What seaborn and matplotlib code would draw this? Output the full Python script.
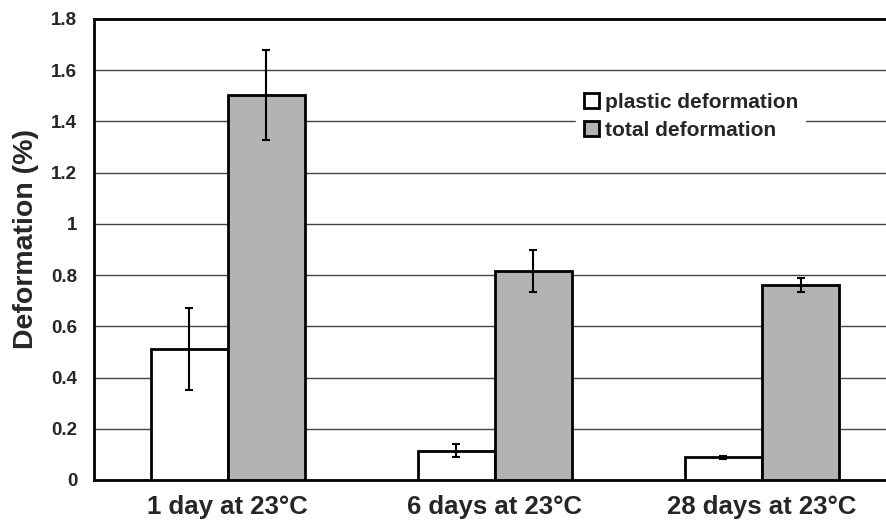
import matplotlib
matplotlib.use("Agg")
import matplotlib.pyplot as plt
import seaborn as sns
import pandas as pd
import numpy as np

categories = ["1 day at 23°C", "6 days at 23°C", "28 days at 23°C"]
series = ["plastic deformation", "total deformation"]
plastic = [0.51, 0.115, 0.088]
plastic_err = [0.16, 0.027, 0.005]
total = [1.503, 0.815, 0.762]
total_err = [0.175, 0.082, 0.028]
yticks = [0, 0.2, 0.4, 0.6, 0.8, 1, 1.2, 1.4, 1.6, 1.8]
ytick_labels = ["0", "0.2", "0.4", "0.6", "0.8", "1", "1.2", "1.4", "1.6", "1.8"]

sns.set_theme(style="white")
plt.rcParams['font.family'] = ['Liberation Sans', 'DejaVu Sans']
plt.rcParams['font.weight'] = 'bold'

df = pd.DataFrame({
    "cat": categories * 2,
    "series": [series[0]] * 3 + [series[1]] * 3,
    "val": plastic + total,
    "err": plastic_err + total_err,
})

fig = plt.figure(figsize=(8.86, 5.22), dpi=100)
ax = fig.add_axes([94 / 886, 42 / 522, 792 / 886, 461 / 522])

sns.barplot(data=df, x="cat", y="val", hue="series", hue_order=series,
            palette={series[0]: "white", series[1]: "#b3b3b3"},
            edgecolor="black", linewidth=2, width=0.577, errorbar=None,
            ax=ax, zorder=3, saturation=1)

# error bars at bar centers
for cont, s in zip(ax.containers, series):
    sub = df[df.series == s]
    xs = [p.get_x() + p.get_width() / 2 for p in cont.patches]
    ax.errorbar(xs, sub["val"].values, yerr=sub["err"].values, fmt="none",
                ecolor="black", elinewidth=1.5, capsize=3, capthick=1.5, zorder=4)

ax.set_xlim(-0.5, 2.464)
ax.set_ylim(0, 1.8)
ax.set_yticks(yticks)
ax.set_yticklabels(ytick_labels, fontsize=13.5, fontweight="bold")
ax.yaxis.grid(True, color="#444444", linewidth=1.0, zorder=0)
ax.set_axisbelow(True)
ax.tick_params(axis="y", which="major", length=0, pad=12)
ax.tick_params(axis="x", length=0, pad=11)
for lbl in ax.get_xticklabels():
    lbl.set_fontsize(18.5)
    lbl.set_fontweight("bold")
ax.set_xlabel("")
ax.set_ylabel("Deformation (%)", fontsize=20.5, fontweight="bold", labelpad=9)
ax.yaxis.label.set_y(0.523)

for side in ["left", "top", "bottom"]:
    ax.spines[side].set_visible(True)
    ax.spines[side].set_color("black")
    ax.spines[side].set_linewidth(2)
ax.spines["right"].set_visible(False)

leg = ax.legend(loc="upper left", bbox_to_anchor=(0.596, 0.878), frameon=True,
                fancybox=False, edgecolor="white", framealpha=1,
                prop={"weight": "bold", "size": 15}, handlelength=0.75,
                handleheight=0.75, handletextpad=0.25, labelspacing=0.44,
                borderpad=0.35)
for h in leg.legend_handles:
    h.set_linewidth(2)

fig.savefig("out.png", dpi=100)
